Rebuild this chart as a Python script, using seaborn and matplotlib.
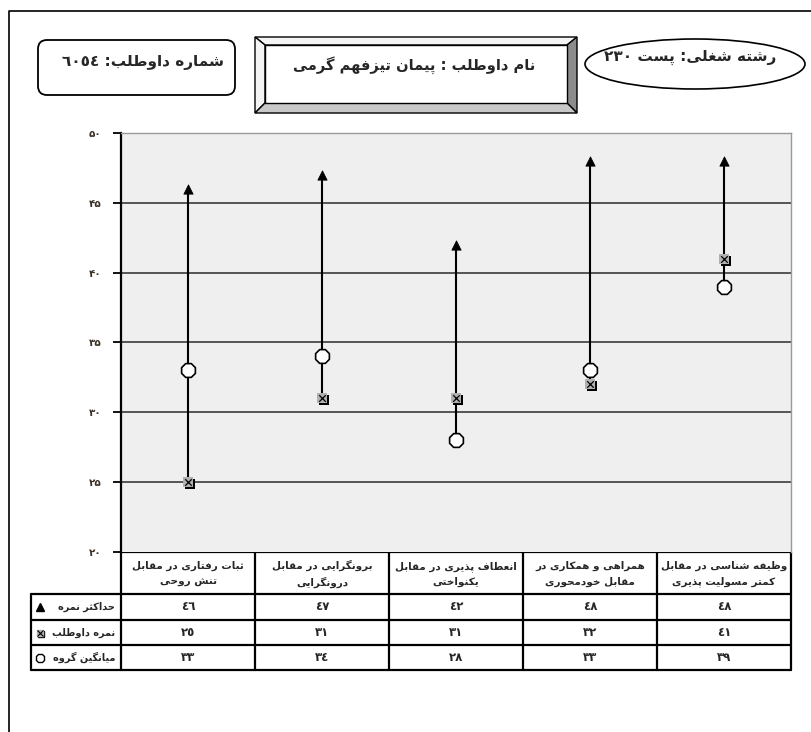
import re
import numpy as np
import pandas as pd
import seaborn as sns
import matplotlib.pyplot as plt
from matplotlib import patches, transforms
from matplotlib.lines import Line2D

categories = [
    "ثبات رفتاری در مقابل\nتنش روحی",
    "برونگرایی در مقابل\nدرونگرایی",
    "انعطاف پذیری در مقابل\nیکنواختی",
    "همراهی و همکاری در\nمقابل خودمحوری",
    "وظیفه شناسی در مقابل\nکمتر مسولیت پذیری",
]
max_score = [46, 47, 42, 48, 48]
candidate_score = [25, 31, 31, 32, 41]
group_mean = [33, 34, 28, 33, 39]
y_ticks = [20, 25, 30, 35, 40, 45, 50]
row_labels = ["حداکثر نمره", "نمره داوطلب", "میانگین گروه"]
id_text = "شماره داوطلب: ٦٠٥٤"
name_text = "نام داوطلب : پیمان تیزفهم گرمی"
job_text = "رشته شغلی: پست ۲۳۰"

# --- tiny arabic/persian shaper (matplotlib does no shaping or bidi) ---
FORMS = {
    'ا': ('\uFE8D', '\uFE8E', None, None), 'آ': ('\uFE81', '\uFE82', None, None),
    'ب': ('\uFE8F', '\uFE90', '\uFE91', '\uFE92'), 'پ': ('\uFB56', '\uFB57', '\uFB58', '\uFB59'),
    'ت': ('\uFE95', '\uFE96', '\uFE97', '\uFE98'), 'ث': ('\uFE99', '\uFE9A', '\uFE9B', '\uFE9C'),
    'ج': ('\uFE9D', '\uFE9E', '\uFE9F', '\uFEA0'), 'چ': ('\uFB7A', '\uFB7B', '\uFB7C', '\uFB7D'),
    'ح': ('\uFEA1', '\uFEA2', '\uFEA3', '\uFEA4'), 'خ': ('\uFEA5', '\uFEA6', '\uFEA7', '\uFEA8'),
    'د': ('\uFEA9', '\uFEAA', None, None), 'ذ': ('\uFEAB', '\uFEAC', None, None),
    'ر': ('\uFEAD', '\uFEAE', None, None), 'ز': ('\uFEAF', '\uFEB0', None, None),
    'ژ': ('\uFB8A', '\uFB8B', None, None),
    'س': ('\uFEB1', '\uFEB2', '\uFEB3', '\uFEB4'), 'ش': ('\uFEB5', '\uFEB6', '\uFEB7', '\uFEB8'),
    'ص': ('\uFEB9', '\uFEBA', '\uFEBB', '\uFEBC'), 'ض': ('\uFEBD', '\uFEBE', '\uFEBF', '\uFEC0'),
    'ط': ('\uFEC1', '\uFEC2', '\uFEC3', '\uFEC4'), 'ظ': ('\uFEC5', '\uFEC6', '\uFEC7', '\uFEC8'),
    'ع': ('\uFEC9', '\uFECA', '\uFECB', '\uFECC'), 'غ': ('\uFECD', '\uFECE', '\uFECF', '\uFED0'),
    'ف': ('\uFED1', '\uFED2', '\uFED3', '\uFED4'), 'ق': ('\uFED5', '\uFED6', '\uFED7', '\uFED8'),
    'ک': ('\uFB8E', '\uFB8F', '\uFB90', '\uFB91'), 'گ': ('\uFB92', '\uFB93', '\uFB94', '\uFB95'),
    'ل': ('\uFEDD', '\uFEDE', '\uFEDF', '\uFEE0'), 'م': ('\uFEE1', '\uFEE2', '\uFEE3', '\uFEE4'),
    'ن': ('\uFEE5', '\uFEE6', '\uFEE7', '\uFEE8'), 'و': ('\uFEED', '\uFEEE', None, None),
    'ه': ('\uFEE9', '\uFEEA', '\uFEEB', '\uFEEC'), 'ی': ('\uFBFC', '\uFBFD', '\uFBFE', '\uFBFF'),
}
DIGITS = '0-9\u0660-\u0669\u06F0-\u06F9'


def shape_line(text):
    out = []
    for i, ch in enumerate(text):
        if ch not in FORMS:
            out.append(ch)
            continue
        prev = text[i - 1] if i > 0 else None
        nxt = text[i + 1] if i + 1 < len(text) else None
        iso, fin, ini, med = FORMS[ch]
        jp = prev in FORMS and FORMS[prev][2] is not None
        jn = ini is not None and nxt in FORMS
        out.append(med if jp and jn else fin if jp else ini if jn else iso)
    runs = re.findall('[' + DIGITS + ']+|[^' + DIGITS + ']+', ''.join(out))
    runs = [r if re.match('[' + DIGITS + ']', r) else r[::-1] for r in runs]
    return ''.join(runs[::-1])


def rtl(text):
    return '\n'.join(shape_line(l) for l in text.split('\n'))


def fa_num(n):
    return str(n).translate(str.maketrans('0123456789', '۰۱۲۳۴۵۶۷۸۹'))


def ar_num(n):
    return str(n).translate(str.maketrans('0123456789', '٠١٢٣٤٥٦٧٨٩'))


sns.set_style("white")
plt.rcParams['font.family'] = ['DejaVu Sans']
plt.rcParams['font.weight'] = 'bold'

df = pd.DataFrame({"pos": np.arange(len(categories)), "max": max_score,
                   "candidate": candidate_score, "mean": group_mean})

W, H = 811, 732
fig = plt.figure(figsize=(W / 100, H / 100), dpi=100)

# overlay in pixel coordinates for frame, header boxes and table
ov = fig.add_axes([0, 0, 1, 1], zorder=0)
ov.set_xlim(0, W)
ov.set_ylim(H, 0)
ov.set_axis_off()

ov.add_line(Line2D([9, 9, W], [H, 11, 11], color='black', lw=1.2))

# id box
ov.add_patch(patches.FancyBboxPatch((38, 40), 197, 55, boxstyle="round,pad=0,rounding_size=9",
                                    fc='white', ec='black', lw=1.3))
ov.text(143, 62, rtl(id_text), ha='center', va='center', fontsize=11)

# name box with bevel
x0, y0, x1, y1 = 255, 37, 577, 113
i0, j0, i1, j1 = 265, 45, 567, 103
ov.add_patch(patches.Polygon([(x0, y0), (x1, y0), (i1, j0), (i0, j0)], fc='#f4f4f4', ec='black', lw=1))
ov.add_patch(patches.Polygon([(x0, y0), (i0, j0), (i0, j1), (x0, y1)], fc='#f4f4f4', ec='black', lw=1))
ov.add_patch(patches.Polygon([(x1, y0), (x1, y1), (i1, j1), (i1, j0)], fc='#8c8c8c', ec='black', lw=1))
ov.add_patch(patches.Polygon([(x0, y1), (i0, j1), (i1, j1), (x1, y1)], fc='#c8c8c8', ec='black', lw=1))
ov.add_patch(patches.Rectangle((i0, j0), i1 - i0, j1 - j0, fc='white', ec='black', lw=1))
ov.text(414, 65, rtl(name_text), ha='center', va='center', fontsize=10.5)

# job ellipse
ov.add_patch(patches.Ellipse((695, 64), 220, 50, fc='white', ec='black', lw=1.2))
ov.text(690, 57, rtl(job_text), ha='center', va='center', fontsize=11)

# table
cols = [121, 255, 389, 523, 657, 791]
rows = [552, 594, 620, 645, 670]
left = 31
ov.add_line(Line2D([cols[0], cols[-1]], [rows[0]] * 2, color='black', lw=1.6))
for r in rows[1:]:
    ov.add_line(Line2D([left, cols[-1]], [r, r], color='black', lw=1.6))
for c in cols:
    ov.add_line(Line2D([c, c], [rows[0], rows[-1]], color='black', lw=1.6))
ov.add_line(Line2D([left, left], [rows[1], rows[-1]], color='black', lw=1.6))

centers = [(a + b) / 2 for a, b in zip(cols[:-1], cols[1:])]
for cx, cat in zip(centers, categories):
    ov.text(cx, (rows[0] + rows[1]) / 2 + 1, rtl(cat), ha='center', va='center',
            fontsize=7.5, linespacing=1.7)
for k, vals in enumerate([max_score, candidate_score, group_mean]):
    cy = (rows[k + 1] + rows[k + 2]) / 2
    for cx, v in zip(centers, vals):
        ov.text(cx, cy, ar_num(v), ha='center', va='center', fontsize=8.5)
    ov.text(115, cy, rtl(row_labels[k]), ha='right', va='center', fontsize=7)

# row legend icons
icon_y = [(rows[k + 1] + rows[k + 2]) / 2 for k in range(3)]
ov.plot([40], [icon_y[0]], marker='^', color='black', ms=6)
ov.plot([41], [icon_y[1] + 1], marker='s', color='black', ms=5)
ov.plot([40], [icon_y[1]], marker='s', color='#b0b0b0', ms=5)
ov.plot([40], [icon_y[1]], marker='x', color='black', ms=4, mew=0.8)
ov.plot([40], [icon_y[2]], marker='8', mfc='white', mec='black', ms=7, mew=1)

# main chart
ax = fig.add_axes([121 / W, 1 - 552 / H, 670 / W, 419 / H], zorder=1)
ax.set_facecolor('#efefef')
for t in y_ticks[1:-1]:
    ax.axhline(t, color='#2b2b2b', lw=1.1, zorder=1)

ax.vlines(df["pos"], df[["max", "candidate", "mean"]].min(axis=1),
          df[["max", "candidate", "mean"]].max(axis=1), color='black', lw=1.5, zorder=2)
sns.scatterplot(data=df, x="pos", y="max", marker='^', color='black', edgecolor='black',
                s=45, ax=ax, zorder=4)
shadow = ax.transData + transforms.ScaledTranslation(2 / 100, -2 / 100, fig.dpi_scale_trans)
sns.scatterplot(data=df, x="pos", y="candidate", marker='s', color='black', linewidth=0,
                s=55, transform=shadow, ax=ax, zorder=4)
sns.scatterplot(data=df, x="pos", y="candidate", marker='s', color='#b0b0b0', linewidth=0,
                s=55, ax=ax, zorder=5)
sns.scatterplot(data=df, x="pos", y="candidate", marker='x', color='black', linewidth=0.9,
                s=22, ax=ax, zorder=6)
sns.scatterplot(data=df, x="pos", y="mean", marker='8', color='white', edgecolor='black',
                linewidth=1.2, s=115, ax=ax, zorder=5)

ax.set_xlim(-0.5, len(categories) - 0.5)
ax.set_ylim(y_ticks[0], y_ticks[-1])
ax.set_xticks([])
ax.set_yticks(y_ticks)
ax.set_yticklabels([fa_num(t) for t in y_ticks], fontsize=7.5, color='#3a3026')
ax.tick_params(axis='y', direction='out', length=6, width=1.3, color='black', pad=8, left=True)
ax.set_xlabel('')
ax.set_ylabel('')
ax.spines['left'].set_color('black')
ax.spines['left'].set_linewidth(1.6)
ax.spines['bottom'].set_visible(False)
for s in ['top', 'right']:
    ax.spines[s].set_color('#9a9a9a')
    ax.spines[s].set_linewidth(1)

fig.savefig('out.png', dpi=100)
